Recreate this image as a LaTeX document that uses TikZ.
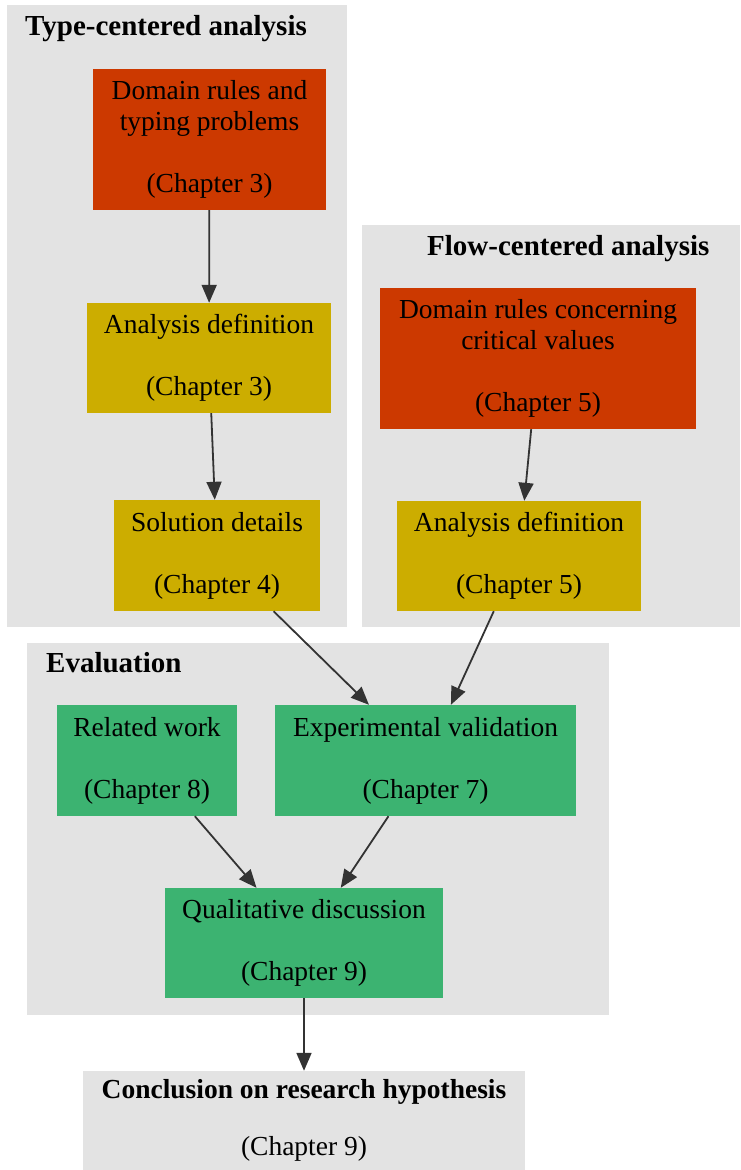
\documentclass[tikz,border=0pt]{standalone}
\usepackage{fontspec}
\setmainfont{Liberation Serif}
\usetikzlibrary{arrows.meta}
\definecolor{redc}{RGB}{204,57,0}
\definecolor{yelc}{RGB}{204,173,0}
\definecolor{grnc}{RGB}{60,179,113}
\definecolor{clus}{RGB}{227,227,227}
\definecolor{edgec}{RGB}{51,51,51}
\begin{document}
\begin{tikzpicture}[x=1pt,y=-1pt,
  box/.style={inner sep=0pt, align=center, font=\fontsize{27.5}{31}\selectfont, text=black},
  redbox/.style={box, fill=redc},
  yelbox/.style={box, fill=yelc},
  grnbox/.style={box, fill=grnc},
  clusterbg/.style={fill=clus},
  title/.style={anchor=base west, inner sep=0pt, font=\fontsize{29}{31}\selectfont\bfseries},
  conn/.style={draw=edgec, line width=1.8pt, -{Triangle[length=18pt,width=15pt,fill=edgec]}}
]
\useasboundingbox (0,0) rectangle (740,1170);
% clusters
\fill[clusterbg] (7,5) rectangle (347,627);
\fill[clusterbg] (362,225) rectangle (740,627);
\fill[clusterbg] (27,643) rectangle (609,1015);
\node[title] (t1) at (25,35) {Type-centered analysis};
\node[title] (t2) at (427,255) {Flow-centered analysis};
\node[title] (t3) at (46,672) {Evaluation};
% nodes
\node[redbox, minimum width=233pt, minimum height=141pt] (d3) at (209.5,139.5)
  {Domain rules and\\typing problems\\[31pt](Chapter 3)};
\node[yelbox, minimum width=244pt, minimum height=110pt] (a3) at (209,358)
  {Analysis definition\\[31pt](Chapter 3)};
\node[yelbox, minimum width=206pt, minimum height=111pt] (s4) at (217,555.5)
  {Solution details\\[31pt](Chapter 4)};
\node[redbox, minimum width=316pt, minimum height=141pt] (d5) at (538,358.5)
  {Domain rules concerning\\critical values\\[31pt](Chapter 5)};
\node[yelbox, minimum width=244pt, minimum height=110pt] (a5) at (519,556)
  {Analysis definition\\[31pt](Chapter 5)};
\node[grnbox, minimum width=180pt, minimum height=111pt] (rw) at (147,760.5)
  {Related work\\[31pt](Chapter 8)};
\node[grnbox, minimum width=301pt, minimum height=111pt] (ev) at (425.5,760.5)
  {Experimental validation\\[31pt](Chapter 7)};
\node[grnbox, minimum width=278pt, minimum height=110pt] (qd) at (304,943)
  {Qualitative discussion\\[31pt](Chapter 9)};
\node[box, fill=clus, minimum width=442pt, minimum height=99pt, font=\fontsize{27.5}{28.5}\selectfont] (cn) at (304,1120.5)
  {\textbf{Conclusion on research hypothesis}\\[28.5pt](Chapter 9)};
% connectors
\draw[conn] (d3) -- (a3);
\draw[conn] (a3) -- (s4);
\draw[conn] (d5) -- (a5);
\draw[conn] (s4) -- (ev);
\draw[conn] (a5) -- (ev);
\draw[conn] (rw) -- (qd);
\draw[conn] (ev) -- (qd);
\draw[conn] (qd) -- (cn);
\end{tikzpicture}
\end{document}
